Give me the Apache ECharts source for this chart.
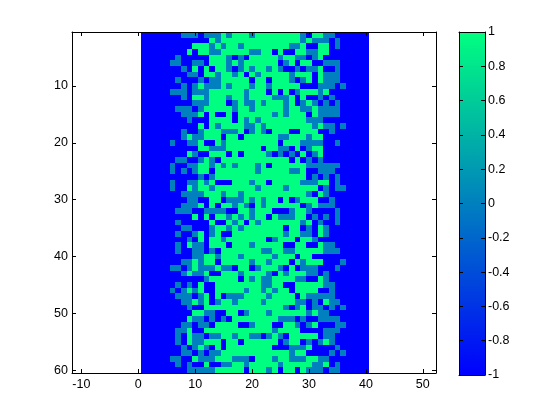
<!DOCTYPE html>
<html>
<head>
<meta charset="utf-8">
<style>html,body{margin:0;padding:0;background:#fff}#main{width:560px;height:420px}</style>
<script src="https://cdn.jsdelivr.net/npm/echarts@6/dist/echarts.min.js"></script>
</head>
<body>
<div id="main"></div>
<script>
const xTicks = [-10, 0, 10, 20, 30, 40, 50];
const yTicks = [10, 20, 30, 40, 50, 60];
const barTicks = [-1, -0.8, -0.6, -0.4, -0.2, 0, 0.2, 0.4, 0.6, 0.8, 1];
const barLabels = ['-1', '-0.8', '-0.6', '-0.4', '-0.2', '0', '0.2', '0.4', '0.6', '0.8', '1'];
const colormap = ['#0000ff', '#0080bf', '#00ff80'];

// one string per row: . = -1, o = 0, # = 1
const cellRows = [
  '.......ooo.ooo#o###o########o.##oo......',
  '............#o##############o#ooo.o.....',
  '.........###o#o##o########oo#..##.o.....',
  '........#.##oo#####oo##.#..##oo##.......',
  '......o.....###o.o.#####o##oo.o#........',
  '.....oo..oo.###o#o######.o#.##..ooo.....',
  '.......o.#.#.##o.o#o##o#o..o.oo#..o.....',
  '........oo.##o##o#.#o#####o###.#ooo.....',
  '......o...o.oo#####.##.###o.o#.#ooo.....',
  '.......o.o#ooo#o###o##o#####...ooo.o....',
  '.....ooo.ooo######o###.#.#.o###o#.......',
  '.......o.##o###o##o####ooo#.#..o.o......',
  '.........ooo###.o#oo#o###o#.o#o.o.o.....',
  '......ooo.o#####o##o#####o##oo#oooo.....',
  '.......ooo#.#..#.######o#o###.#oooo.....',
  '........o...####.#o#o########ooo........',
  '..........#.#o####oo#o########o#oo.o....',
  '.......o..o###ooo#.o#o.###..###..o......',
  '.......o#oo###.##.######oo###o##........',
  '.....o..oo#..#o#########.###oooo..o.....',
  '..........##ooo######.##oo.#.o##........',
  '........#o..###.#.####o.o.o.#.o#........',
  '......oo..o#o.############.#.o.o........',
  '.....o..oo##o#o#o###o#.######oooooo.....',
  '.....o.o.o##.#######o#####oo#..ooo......',
  '..........o.o################.o.o.o......',
  '.....o..oo#o#...###o##.#####ooo##.o.....',
  '.....o..#o##o#######o####o#####.o.oo....',
  '.......oooo###o##o###########o.#o.......',
  '........oo..##.ooo#o#o##.#.o###..o......',
  '.......ooo#.#.##o#o.#o######.o#ooo......',
  '......ooo..oooo..##o###...o##o....o.....',
  '.........#.#.##o#o#o##.#ooo##.o.o.o.....',
  '......o.....#..#o#.#o#######o#.o..o.....',
  '.......oo...o##o#o#######.##.o.#o.......',
  '......o..o#.o#..#########o##oo.#o.......',
  '........o.#.##o#######.o###.##o.........',
  '......o.#oo.###.###o#####..##..#oo......',
  '......o..oo.o.#######oo##oo#####ooo.....',
  '.........oo##o###o#####o###.##..........',
  '.......oo#o##.#####o##o###.#o###...o....',
  '.....oo.o#ooo#oo.##.o###o.#.ooo...o.....',
  '.......o#oo#..###o####o.#o###oo.o.......',
  '...........o#####.#o#oo####oo..#o.......',
  '......o.o.#..########oo##..#####oo......',
  '.....o.o#o#..#####o##o#o##.####..o......',
  '......ooo.o#.#.ooo####o####.#ooooo......',
  '.......oo#o#.o##o####o#####oo.o.#oo.....',
  '........o..##############o.o#.oo.o.o....',
  '.........##oo..##.o###o######o#oo.......',
  '........#oo.o.o.########ooo.o..oooo.....',
  '.......oo.oo.####..o###..##o.o#...oo....',
  '......oo#..############o####....ooo.....',
  '......o.#oo.oo##o##oo.o#o.#####.oo......',
  '......o.#oo###.##.######.o##.o.o#o......',
  '.......o.o#o.#.########...ooo#....o.....',
  '.......oo.o.oo############o##....o.o....',
  '.....oo..#ooo###ooo.###o##ooo##oo.......',
  '......o.o..#..oo##o#####o#####oo#.o.....',
  '........ooooo#####.###o#.##.#ooo.oo.....'
];
const cellValue = { '.': -1, 'o': 0, '#': 1 };

const cells = [];
cellRows.forEach(function (row, r) {
  for (let c = 0; c < 40; c++) {
    cells.push([c + 1, r + 1, cellValue[row[c]]]);
  }
});

const fontFamily = '"Liberation Sans", Arial, sans-serif';
const lineStyle = { color: '#000', width: 1 };
const XMIN = -11.65, XMAX = 52.32;

function frameAxis(extra) {
  return Object.assign({
    type: 'value',
    z: 10,
    splitLine: { show: false },
    axisLine: { show: true, onZero: false, lineStyle: lineStyle },
    axisTick: { show: false },
    axisLabel: { show: false }
  }, extra);
}
function ticks(vals, margin, fmt) {
  return {
    axisTick: { show: true, inside: true, length: 4, lineStyle: lineStyle, customValues: vals },
    axisLabel: margin ? {
      show: true, customValues: vals, color: '#000', fontSize: 12.5, fontFamily: fontFamily,
      margin: margin, formatter: fmt
    } : { show: false }
  };
}
function barFormat(v) {
  return barLabels[barTicks.findIndex(function (t) { return Math.abs(t - v) < 1e-6; })];
}

function renderCell(params, api) {
  const a = api.coord([api.value(0) - 0.5, api.value(1) - 0.5]);
  const b = api.coord([api.value(0) + 0.5, api.value(1) + 0.5]);
  const x0 = Math.round(a[0]), y0 = Math.round(a[1]);
  return {
    type: 'rect',
    shape: { x: x0, y: y0, width: Math.round(b[0]) - x0, height: Math.round(b[1]) - y0 },
    style: { fill: colormap[api.value(2) + 1] }
  };
}
function renderBar(params, api) {
  const a = api.coord([0, 1]);
  const b = api.coord([1, -1]);
  return {
    type: 'rect',
    shape: { x: a[0], y: a[1], width: b[0] - a[0], height: b[1] - a[1] },
    style: {
      fill: new echarts.graphic.LinearGradient(0, 1, 0, 0, [
        { offset: 0, color: colormap[0] },
        { offset: 0.5, color: colormap[1] },
        { offset: 1, color: colormap[2] }
      ])
    }
  };
}

const chart = echarts.init(document.getElementById('main'), null, { renderer: 'canvas' });
chart.setOption({
  animation: false,
  backgroundColor: '#fff',
  grid: [
    { left: 72, top: 32, width: 364, height: 341 },
    { left: 459, top: 32, width: 26, height: 343 }
  ],
  xAxis: [
    frameAxis(Object.assign({ gridIndex: 0, position: 'bottom', min: XMIN, max: XMAX }, ticks(xTicks, 5))),
    frameAxis(Object.assign({ gridIndex: 0, position: 'top', min: XMIN, max: XMAX }, ticks(xTicks, 0))),
    frameAxis({ gridIndex: 1, position: 'bottom', min: 0, max: 1 }),
    frameAxis({ gridIndex: 1, position: 'top', min: 0, max: 1 })
  ],
  yAxis: [
    frameAxis(Object.assign({ gridIndex: 0, position: 'left', inverse: true, min: 0.5, max: 60.5 }, ticks(yTicks, 4))),
    frameAxis(Object.assign({ gridIndex: 0, position: 'right', inverse: true, min: 0.5, max: 60.5 }, ticks(yTicks, 0))),
    frameAxis(Object.assign({ gridIndex: 1, position: 'left', min: -1, max: 1 }, ticks(barTicks, 0))),
    frameAxis(Object.assign({ gridIndex: 1, position: 'right', min: -1, max: 1 }, ticks(barTicks, 3, barFormat)))
  ],
  series: [
    {
      type: 'custom',
      xAxisIndex: 0,
      yAxisIndex: 0,
      renderItem: renderCell,
      data: cells,
      progressive: 0,
      silent: true
    },
    {
      type: 'custom',
      xAxisIndex: 2,
      yAxisIndex: 2,
      renderItem: renderBar,
      data: [[0, 1]],
      silent: true
    }
  ]
});
</script>
</body>
</html>
